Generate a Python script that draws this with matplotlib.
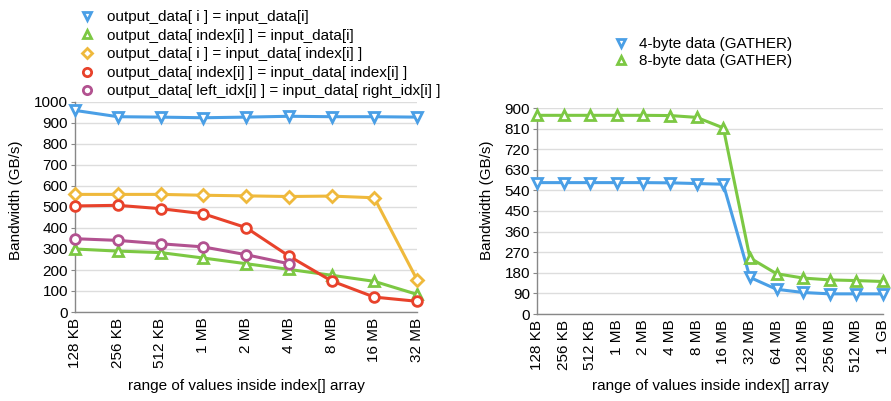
import numpy as np
import matplotlib.pyplot as plt

nan = np.nan

# left chart
sizes_left = ["128 KB", "256 KB", "512 KB", "1 MB", "2 MB", "4 MB", "8 MB", "16 MB", "32 MB"]
plain_copy = [960, 930, 928, 925, 928, 932, 930, 930, 928]
scatter = [300, 290, 283, 257, 230, 203, 175, 146, 84]
gather = [560, 560, 560, 556, 553, 550, 552, 544, 154]
both = [505, 508, 492, 468, 402, 267, 148, 71, 51]
left_right = [349, 341, 325, 310, 273, 230, nan, nan, nan]

# right chart
sizes_right = ["128 KB", "256 KB", "512 KB", "1 MB", "2 MB", "4 MB", "8 MB", "16 MB",
               "32 MB", "64 MB", "128 MB", "256 MB", "512 MB", "1 GB"]
gather4 = [574, 574, 574, 574, 574, 573, 570, 567, 160, 108, 94, 88, 88, 88]
gather8 = [868, 868, 868, 868, 868, 867, 859, 813, 245, 176, 157, 149, 146, 142]

BLUE = "#4a9fe6"
GREEN = "#7cc843"
YELLOW = "#efb93c"
RED = "#e8422b"
PURPLE = "#b25290"

plt.rcParams["font.family"] = ["Liberation Sans", "DejaVu Sans"]
plt.rcParams["font.size"] = 11

fig = plt.figure(figsize=(8.91, 4.01), dpi=100)
W, H = 891, 401
ax1 = fig.add_axes([75 / W, 1 - 312 / H, (417 - 75) / W, (312 - 102) / H])
ax2 = fig.add_axes([537 / W, 1 - 314 / H, (883 - 537) / W, (314 - 108) / H])


def style(ax, ylab_x):
    for s in ["top", "right"]:
        ax.spines[s].set_visible(False)
    for s in ["left", "bottom"]:
        ax.spines[s].set_color("#888888")
        ax.spines[s].set_linewidth(1)
    ax.grid(axis="y", color="#dddddd", linewidth=1)
    ax.set_axisbelow(True)
    ax.tick_params(axis="x", length=0, pad=4, labelrotation=90, labelsize=11)
    ax.tick_params(axis="y", length=3, color="#888888", labelsize=11, pad=2)
    ax.set_ylabel("Bandwidth (GB/s)", fontsize=11)
    ax.set_xlabel("range of values inside index[] array", fontsize=11)
    ax.yaxis.set_label_coords(ylab_x / W, 0.5, transform=fig.transFigure)
    ax.yaxis.label.set_y(0.5)
    # x label centred under the axes, at a fixed height in the figure
    ax.xaxis.set_label_coords(0.5, 1 - 379 / H,
                              transform=ax.get_xaxis_transform().__class__(ax.transAxes, fig.transFigure))


def line(ax, y, color, marker, label, ms=7):
    ax.plot(range(len(y)), y, color=color, linewidth=2.2, marker=marker, markersize=ms,
            markerfacecolor="white", markeredgecolor=color, markeredgewidth=2,
            label=label, clip_on=False, zorder=3)


line(ax1, plain_copy, BLUE, "v", "output_data[ i ] = input_data[i]")
line(ax1, scatter, GREEN, "^", "output_data[ index[i] ] = input_data[i]")
line(ax1, gather, YELLOW, "D", "output_data[ i ] = input_data[ index[i] ]", ms=6.5)
line(ax1, both, RED, "o", "output_data[ index[i] ] = input_data[ index[i] ]")
line(ax1, left_right, PURPLE, "o", "output_data[ left_idx[i] ] = input_data[ right_idx[i] ]")

ax1.set_xlim(0, len(sizes_left) - 1)
ax1.set_ylim(0, 1000)
ax1.set_yticks(range(0, 1001, 100))
ax1.set_xticks(range(len(sizes_left)))
ax1.set_xticklabels(sizes_left)
style(ax1, 23)

h, l = ax1.get_legend_handles_labels()
fig.legend(h, l, loc="upper left", bbox_to_anchor=(73 / W, 1 - 4 / H), frameon=False,
           handlelength=1.0, handletextpad=0.8, labelspacing=0.3, fontsize=11,
           borderaxespad=0, markerscale=0.85)

line(ax2, gather4, BLUE, "v", "4-byte data (GATHER)")
line(ax2, gather8, GREEN, "^", "8-byte data (GATHER)")
ax2.set_xlim(0, len(sizes_right) - 1)
ax2.set_ylim(0, 900)
ax2.set_yticks(range(0, 901, 90))
ax2.set_xticks(range(len(sizes_right)))
ax2.set_xticklabels(sizes_right)
style(ax2, 494)

h2, l2 = ax2.get_legend_handles_labels()
fig.legend(h2, l2, loc="upper left", bbox_to_anchor=(607 / W, 1 - 31 / H), frameon=False,
           handlelength=1.0, handletextpad=0.7, labelspacing=0.2, fontsize=11,
           borderaxespad=0, markerscale=0.85)

# markers only in the legends
for leg in fig.legends:
    for lh in leg.legend_handles:
        lh.set_linestyle("none")

fig.savefig("out.png", dpi=100)
